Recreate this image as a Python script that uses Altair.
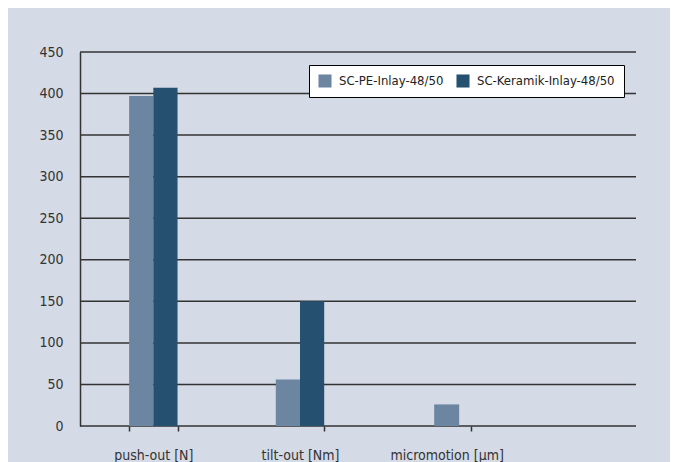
import altair as alt
import pandas as pd

categories = ["push-out [N]", "tilt-out [Nm]", "micromotion [µm]"]
series = ["SC-PE-Inlay-48/50", "SC-Keramik-Inlay-48/50"]
pe_values = [397, 56, 26]
keramik_values = [407, 150, None]
y_ticks = [0, 50, 100, 150, 200, 250, 300, 350, 400, 450]
colors = ["#6c86a2", "#26506f"]

rows = []
for c, p, k in zip(categories, pe_values, keramik_values):
    if p is not None:
        rows.append({"category": c, "series": series[0], "value": p})
    if k is not None:
        rows.append({"category": c, "series": series[1], "value": k})
df = pd.DataFrame(rows)
grid_df = pd.DataFrame({"value": y_ticks})

FONT = "Liberation Sans Narrow, DejaVu Sans Condensed, sans-serif"

x_enc = alt.X(
    "category:N",
    sort=categories,
    scale=alt.Scale(domain=categories, range=[0, 440], paddingInner=0.67, paddingOuter=0.335),
    axis=alt.Axis(
        title=None, labelAngle=0, domain=False, grid=False,
        tickBand="extent", tickSize=5, tickColor="#333333", tickWidth=1.5,
        labelPadding=17, labelFontSize=14, labelFont=FONT, labelColor="#333333",
    ),
)
y_enc = alt.Y(
    "value:Q",
    scale=alt.Scale(domain=[0, 450], nice=False),
    axis=alt.Axis(
        title=None, values=y_ticks, grid=False,
        domain=True, domainColor="#333333", domainWidth=1.5, ticks=False,
        labelPadding=17, labelFontSize=14, labelFont=FONT, labelColor="#333333",
    ),
)
color_enc = alt.Color(
    "series:N",
    sort=series,
    scale=alt.Scale(domain=series, range=colors),
    legend=alt.Legend(
        title=None, orient="none", legendX=229, legendY=13, direction="horizontal",
        fillColor="white", strokeColor="black", padding=9,
        symbolType="square", symbolSize=170, symbolStrokeWidth=0, symbolOffset=0,
        labelFontSize=13, labelFont=FONT, labelColor="#222222", labelOffset=7,
        columnPadding=12,
    ),
)

grid = alt.Chart(grid_df).mark_rule(color="#333333", strokeWidth=1.5).encode(y=y_enc)

base = alt.Chart(df).transform_joinaggregate(n="count()", groupby=["category"])

paired = base.transform_filter("datum.n == 2").mark_bar().encode(
    x=x_enc,
    xOffset=alt.XOffset(
        "series:N", sort=series,
        scale=alt.Scale(domain=series, paddingInner=0, paddingOuter=0),
    ),
    y=y_enc,
    color=color_enc,
)
single = base.transform_filter("datum.n == 1").mark_bar(size=25).encode(
    x=x_enc, y=y_enc, color=color_enc,
)

chart = (
    alt.layer(grid, paired, single)
    .properties(
        width=556, height=374,
        autosize=alt.AutoSizeParams(type="none"),
        padding={"left": 72, "top": 44, "right": 34, "bottom": 40},
        background="#d4dae6",
    )
    .configure_view(stroke=None, fill="#d4dae6")
)

chart.save("out.html", embed_options={"renderer": "svg", "actions": False})
